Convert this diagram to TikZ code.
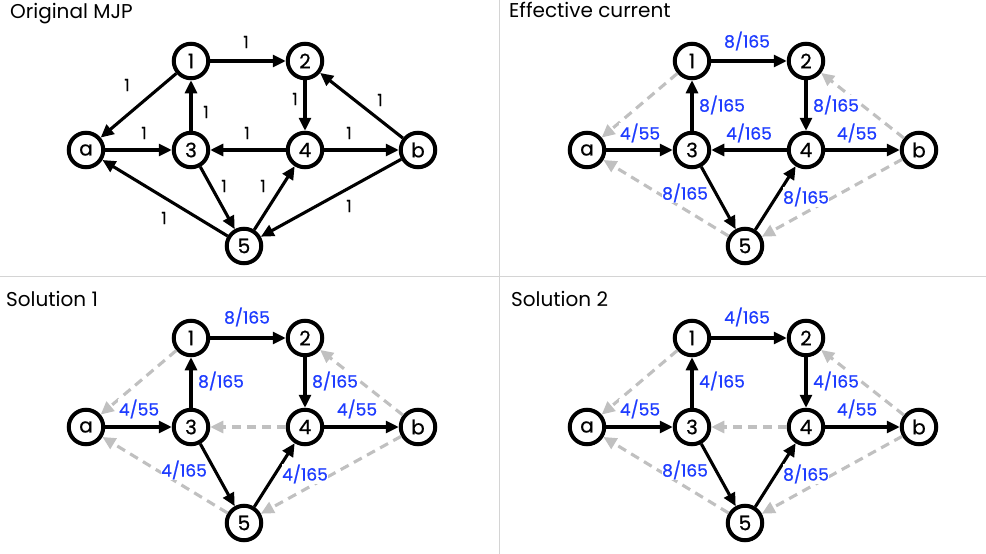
\documentclass[tikz,border=0pt]{standalone}
\usepackage{fontspec}
\setmainfont{Poppins}
\newfontfamily\heavyfont{Poppins}[FakeBold=0.6]
\usetikzlibrary{arrows.meta,shadows}

\definecolor{lblblue}{RGB}{30,60,255}
\definecolor{dashgray}{RGB}{192,192,192}
\definecolor{divgray}{RGB}{212,212,212}

\tikzset{
  st/.style={circle, draw=black, line width=4pt, fill=white,
    minimum size=34.5pt, inner sep=0pt, font=\heavyfont\fontsize{20}{20}\selectfont,
    drop shadow={shadow xshift=1pt, shadow yshift=-1.2pt, opacity=0.22, fill=black}},
  flow/.style={line width=3.1pt, -{Triangle[length=13pt,width=12pt]}},
  back/.style={flow, draw=dashgray, dash pattern=on 9pt off 6pt},
  lbl/.style={font=\heavyfont\fontsize{17}{17}\selectfont, text=lblblue, inner sep=0.5pt, fill=white},
  one/.style={font=\heavyfont\fontsize{17}{17}\selectfont, inner sep=1pt},
  title/.style={anchor=base west, font=\fontsize{20}{20}\selectfont, inner sep=0pt},
}

% the seven states of one chain, names prefixed by #1
\newcommand\mjpstates[1]{%
  \node[st] (#1a) at (86,-150)  {a};
  \node[st] (#11) at (191,-61)  {1};
  \node[st] (#12) at (305,-61)  {2};
  \node[st] (#13) at (191,-150) {3};
  \node[st] (#14) at (305,-150) {4};
  \node[st] (#1b) at (418,-150) {b};
  \node[st] (#15) at (244,-246) {5};
}

\begin{document}
\begin{tikzpicture}[x=1pt,y=1pt]
\useasboundingbox (0,0) rectangle (986,-554);
\fill[white] (0,0) rectangle (986,-554);

% panel dividers
\coordinate (vtop) at (499,0);
\coordinate (vbot) at (499,-554);
\coordinate (hleft) at (0,-276.5);
\coordinate (hright) at (986,-276.5);
\draw[divgray, line width=1pt] (vtop) -- (vbot);
\draw[divgray, line width=1pt] (hleft) -- (hright);

% ---------- original chain ----------
\begin{scope}
  \node[title] (t1) at (10,-19) {Original MJP};
  \mjpstates{O}
  \draw[flow] (Oa) -- (O3);
  \draw[flow] (O3) -- (O1);
  \draw[flow] (O1) -- (O2);
  \draw[flow] (O2) -- (O4);
  \draw[flow] (O4) -- (O3);
  \draw[flow] (O4) -- (Ob);
  \draw[flow] (O3) -- (O5);
  \draw[flow] (O5) -- (O4);
  \draw[flow] (O1) -- (Oa);
  \draw[flow] (Ob) -- (O2);
  \draw[flow] (O5) -- (Oa);
  \draw[flow] (Ob) -- (O5);
  \node[one] (Ol12) at (246,-42)  {1};
  \node[one] (Ol1a) at (127,-85)  {1};
  \node[one] (Ol31) at (206,-112) {1};
  \node[one] (Ol24) at (295,-99)  {1};
  \node[one] (Olb2) at (380,-100) {1};
  \node[one] (Ola3) at (144,-133) {1};
  \node[one] (Ol43) at (247,-133) {1};
  \node[one] (Ol4b) at (349,-133) {1};
  \node[one] (Ol35) at (224,-186) {1};
  \node[one] (Ol54) at (263,-186) {1};
  \node[one] (Olb5) at (349,-206) {1};
  \node[one] (Ol5a) at (164,-218) {1};
\end{scope}

% ---------- effective current ----------
\begin{scope}[shift={(501,0)}]
  \node[title] (t2) at (8,-17) {Effective current};
  \mjpstates{E}
  \draw[back] (E1) -- (Ea);
  \draw[back] (Eb) -- (E2);
  \draw[back] (E5) -- (Ea);
  \draw[back] (Eb) -- (E5);
  \draw[flow] (Ea) -- (E3);
  \draw[flow] (E3) -- (E1);
  \draw[flow] (E1) -- (E2);
  \draw[flow] (E2) -- (E4);
  \draw[flow] (E4) -- (E3);
  \draw[flow] (E4) -- (Eb);
  \draw[flow] (E3) -- (E5);
  \draw[flow] (E5) -- (E4);
  \node[lbl] (El12) at (246,-41)  {8/165};
  \node[lbl] (El31) at (221,-105) {8/165};
  \node[lbl] (El24) at (335,-105) {8/165};
  \node[lbl] (Ela3) at (139,-133) {4/55};
  \node[lbl] (El43) at (248,-133) {4/165};
  \node[lbl] (El4b) at (356,-133) {4/55};
  \node[lbl] (El35) at (184,-193) {8/165};
  \node[lbl] (El54) at (305,-197) {8/165};
\end{scope}

% ---------- solution 1 ----------
\begin{scope}[shift={(0,-277)}]
  \node[title] (t3) at (6,-29) {Solution 1};
  \mjpstates{S}
  \draw[back] (S1) -- (Sa);
  \draw[back] (Sb) -- (S2);
  \draw[back] (S5) -- (Sa);
  \draw[back] (Sb) -- (S5);
  \draw[back] (S4) -- (S3);
  \draw[flow] (Sa) -- (S3);
  \draw[flow] (S3) -- (S1);
  \draw[flow] (S1) -- (S2);
  \draw[flow] (S2) -- (S4);
  \draw[flow] (S4) -- (Sb);
  \draw[flow] (S3) -- (S5);
  \draw[flow] (S5) -- (S4);
  \node[lbl] (Sl12) at (247,-40)  {8/165};
  \node[lbl] (Sl31) at (221,-104) {8/165};
  \node[lbl] (Sl24) at (335,-104) {8/165};
  \node[lbl] (Sla3) at (139,-132) {4/55};
  \node[lbl] (Sl4b) at (357,-132) {4/55};
  \node[lbl] (Sl35) at (184,-193) {4/165};
  \node[lbl] (Sl54) at (305,-197) {4/165};
\end{scope}

% ---------- solution 2 ----------
\begin{scope}[shift={(501,-277)}]
  \node[title] (t4) at (10,-29) {Solution 2};
  \mjpstates{T}
  \draw[back] (T1) -- (Ta);
  \draw[back] (Tb) -- (T2);
  \draw[back] (T5) -- (Ta);
  \draw[back] (Tb) -- (T5);
  \draw[back] (T4) -- (T3);
  \draw[flow] (Ta) -- (T3);
  \draw[flow] (T3) -- (T1);
  \draw[flow] (T1) -- (T2);
  \draw[flow] (T2) -- (T4);
  \draw[flow] (T4) -- (Tb);
  \draw[flow] (T3) -- (T5);
  \draw[flow] (T5) -- (T4);
  \node[lbl] (Tl12) at (246,-40)  {4/165};
  \node[lbl] (Tl31) at (221,-104) {4/165};
  \node[lbl] (Tl24) at (335,-104) {4/165};
  \node[lbl] (Tla3) at (139,-132) {4/55};
  \node[lbl] (Tl4b) at (356,-132) {4/55};
  \node[lbl] (Tl35) at (184,-193) {8/165};
  \node[lbl] (Tl54) at (305,-197) {8/165};
\end{scope}
\end{tikzpicture}
\end{document}
